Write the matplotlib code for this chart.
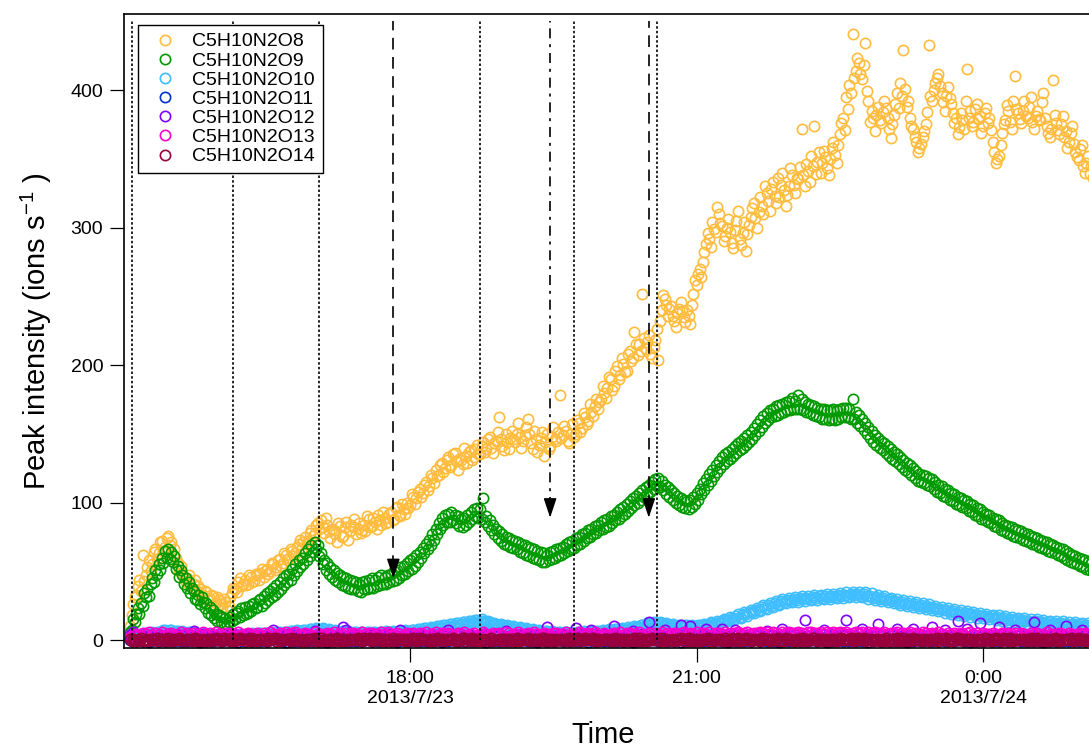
import pandas as pd
import matplotlib
matplotlib.use('Agg')
import matplotlib.pyplot as plt
import matplotlib.dates as mdates

plt.rcParams['font.family'] = 'Liberation Sans'
plt.rcParams['mathtext.fontset'] = 'custom'
plt.rcParams['mathtext.rm'] = 'Liberation Sans'
plt.rcParams['mathtext.it'] = 'Liberation Sans:italic'
plt.rcParams['mathtext.bf'] = 'Liberation Sans:bold'

# peak intensities (ions/s) starting 2013/7/23 15:04
# O8, O9, O10 and O14 are 1-min data, O11-O13 are 2-min data
start_time = '2013-07-23 15:04'

c5h10n2o8 = [
    10, 18, 26, 31, 33, 39, 44, 36, 62, 43, 47, 53, 58, 50, 55, 64, 66, 59, 63, 71,
    72, 65, 68, 74, 76, 69, 71, 62, 66, 60, 56, 51, 54, 49, 46, 42, 45, 47, 40, 38,
    41, 44, 36, 39, 37, 31, 33, 36, 35, 29, 30, 33, 32, 25, 27, 31, 29, 26, 24, 30,
    28, 22, 25, 31, 34, 38, 37, 35, 42, 45, 39, 41, 44, 40, 41, 47, 46, 42, 43, 48,
    47, 44, 49, 52, 46, 50, 52, 48, 50, 56, 55, 51, 53, 58, 59, 54, 56, 63, 62, 58,
    60, 66, 65, 61, 63, 68, 70, 73, 67, 71, 75, 70, 72, 78, 80, 76, 78, 84, 85, 81,
    87, 82, 78, 89, 84, 79, 74, 81, 80, 77, 71, 85, 83, 75, 76, 82, 86, 73, 79, 84,
    82, 88, 77, 81, 85, 78, 80, 84, 79, 90, 88, 82, 83, 89, 86, 81, 91, 87, 84, 93,
    89, 85, 86, 92, 93, 87, 88, 96, 97, 91, 90, 99, 95, 92, 100, 96, 98, 106, 104, 99,
    103, 108, 110, 104, 107, 113, 115, 109, 112, 120, 118, 114, 124, 119, 120, 127, 129, 122, 125, 131,
    133, 126, 127, 135, 136, 130, 124, 132, 131, 128, 140, 134, 129, 137, 138, 131, 133, 139, 142, 135,
    135, 141, 144, 137, 139, 146, 148, 140, 136, 143, 145, 151, 162, 146, 141, 138, 150, 144, 139, 147,
    152, 146, 144, 150, 158, 148, 140, 145, 149, 155, 161, 150, 143, 139, 152, 146, 137, 142, 147, 151,
    134, 144, 150, 139, 141, 148, 155, 146, 145, 151, 178, 147, 149, 156, 152, 145, 143, 150, 157, 148,
    150, 160, 158, 151, 154, 165, 162, 157, 159, 172, 166, 163, 170, 175, 168, 173, 175, 185, 180, 176,
    183, 191, 190, 182, 185, 196, 199, 190, 193, 205, 201, 195, 196, 208, 210, 203, 205, 224, 215, 207,
    215, 210, 252, 220, 212, 217, 222, 208, 205, 213, 218, 226, 204, 232, 240, 251, 248, 244, 236, 241,
    243, 236, 232, 228, 238, 241, 246, 239, 235, 231, 240, 236, 230, 244, 252, 262, 258, 266, 270, 264,
    275, 282, 288, 296, 292, 286, 304, 299, 297, 315, 310, 303, 301, 290, 294, 300, 306, 297, 289, 285,
    298, 305, 312, 292, 287, 296, 304, 283, 295, 302, 308, 314, 318, 307, 300, 311, 322, 316, 310, 330,
    325, 319, 312, 328, 333, 323, 318, 336, 322, 331, 340, 327, 316, 324, 330, 343, 338, 331, 325, 336,
    335, 344, 372, 338, 330, 346, 341, 333, 352, 345, 374, 339, 348, 355, 340, 347, 356, 351, 343, 338,
    350, 358, 362, 353, 347, 360, 368, 376, 380, 371, 395, 386, 404, 398, 441, 409, 414, 423, 420, 412,
    408, 418, 434, 399, 392, 377, 385, 380, 370, 382, 388, 378, 376, 384, 392, 387, 380, 372, 365, 375,
    382, 390, 398, 387, 405, 396, 429, 401, 388, 392, 380, 374, 372, 366, 362, 355, 358, 361, 366, 370,
    375, 384, 433, 396, 392, 400, 405, 409, 412, 403, 398, 391, 385, 396, 402, 394, 390, 383, 376, 380,
    368, 373, 383, 378, 372, 392, 415, 380, 385, 374, 377, 386, 390, 379, 381, 369, 374, 383, 387, 376,
    380, 371, 362, 355, 347, 350, 352, 360, 369, 375, 378, 389, 385, 377, 372, 392, 410, 386, 383, 379,
    376, 385, 392, 381, 380, 388, 395, 377, 372, 381, 385, 379, 378, 391, 398, 380, 374, 369, 366, 372,
    407, 382, 376, 371, 368, 375, 381, 366, 370, 358, 362, 369, 374, 361, 355, 351, 349, 357, 360, 345,
    340, 347, 352, 339, 345, 336, 338, 343]

c5h10n2o9 = [
    6, 7, 15, 13, 19, 23, 19, 27, 25, 34, 31, 37, 32, 41, 45, 42, 51, 48, 55, 51,
    60, 56, 65, 60, 66, 59, 64, 57, 61, 52, 54, 46, 51, 47, 41, 45, 38, 42, 34, 38,
    36, 30, 29, 33, 26, 31, 28, 23, 27, 20, 24, 18, 22, 16, 19, 14, 18, 13, 17, 12,
    16, 11, 13, 17, 14, 19, 15, 20, 21, 17, 23, 18, 24, 19, 20, 25, 21, 26, 27, 23,
    24, 29, 30, 25, 32, 27, 34, 29, 36, 31, 38, 33, 40, 35, 42, 37, 45, 40, 47, 42,
    48, 44, 52, 47, 55, 50, 58, 53, 60, 55, 63, 58, 66, 61, 69, 64, 71, 66, 69, 61,
    63, 55, 58, 51, 56, 48, 53, 46, 51, 44, 49, 42, 47, 40, 46, 39, 45, 38, 44, 37,
    43, 37, 42, 36, 41, 35, 42, 37, 43, 37, 44, 38, 45, 38, 44, 39, 46, 40, 47, 41,
    46, 41, 47, 42, 48, 43, 50, 44, 51, 45, 53, 47, 54, 48, 56, 50, 58, 52, 60, 54,
    62, 57, 64, 60, 67, 63, 70, 66, 73, 69, 77, 73, 81, 77, 85, 81, 89, 84, 91, 86,
    92, 86, 93, 87, 91, 85, 90, 83, 88, 82, 89, 84, 91, 86, 93, 88, 95, 90, 96, 89,
    95, 88, 103, 86, 90, 83, 87, 80, 84, 77, 81, 74, 79, 72, 77, 70, 75, 69, 74, 68,
    73, 67, 72, 66, 71, 64, 70, 63, 69, 62, 68, 61, 67, 60, 66, 59, 65, 58, 64, 57,
    63, 57, 62, 58, 64, 59, 65, 60, 66, 61, 67, 62, 68, 63, 70, 65, 71, 66, 72, 67,
    74, 69, 75, 70, 77, 72, 78, 74, 80, 75, 81, 77, 83, 78, 84, 80, 86, 81, 87, 82,
    88, 83, 90, 85, 91, 87, 93, 88, 95, 90, 97, 92, 99, 94, 101, 96, 103, 98, 105, 100,
    107, 102, 109, 104, 111, 106, 113, 108, 115, 110, 117, 112, 118, 111, 116, 109, 113, 106, 111, 104,
    109, 102, 107, 100, 105, 98, 103, 97, 102, 96, 101, 95, 102, 97, 104, 99, 107, 102, 110, 106,
    114, 109, 117, 113, 121, 116, 124, 119, 127, 122, 130, 125, 133, 128, 135, 130, 137, 132, 139, 134,
    141, 136, 143, 138, 145, 140, 147, 142, 149, 144, 151, 146, 154, 149, 157, 152, 160, 155, 163, 158,
    165, 160, 167, 162, 168, 163, 170, 164, 171, 165, 172, 166, 173, 167, 174, 167, 176, 168, 174, 168,
    178, 168, 175, 167, 173, 166, 172, 165, 171, 164, 170, 163, 169, 162, 168, 161, 168, 161, 167, 160,
    167, 161, 168, 160, 167, 161, 168, 162, 169, 162, 169, 162, 168, 161, 175, 161, 166, 158, 164, 156,
    161, 153, 158, 150, 155, 147, 152, 144, 149, 142, 147, 140, 145, 138, 143, 136, 141, 134, 139, 132,
    137, 130, 135, 128, 133, 126, 131, 124, 129, 122, 127, 120, 125, 118, 123, 116, 121, 115, 120, 114,
    119, 113, 118, 112, 117, 110, 115, 108, 113, 107, 112, 105, 110, 104, 109, 102, 107, 101, 106, 99,
    104, 98, 103, 97, 102, 96, 101, 94, 99, 93, 98, 91, 96, 90, 95, 88, 93, 87, 92, 86,
    91, 85, 89, 83, 88, 82, 87, 80, 85, 79, 84, 78, 83, 77, 82, 76, 81, 75, 80, 74,
    79, 73, 78, 72, 77, 71, 76, 70, 75, 69, 74, 68, 73, 67, 72, 66, 71, 65, 70, 64,
    69, 63, 68, 62, 67, 61, 66, 60, 65, 58, 63, 57, 62, 56, 61, 55, 60, 54, 59, 53,
    58, 52, 57, 51, 56, 50, 55, 49]

c5h10n2o10 = [
    1.5, 2.6, 3.0, 2.0, 2.2, 3.5, 4.1, 3.0, 3.4, 4.5, 4.8, 3.8, 3.9, 5.2, 5.5, 4.4, 4.6, 6.0, 6.1, 5.1,
    5.8, 7.2, 7.0, 5.9, 6.2, 7.6, 7.3, 6.0, 5.9, 6.9, 6.6, 5.4, 5.2, 6.3, 6.0, 4.9, 4.8, 5.8, 5.5, 4.5,
    4.6, 5.5, 5.2, 4.0, 4.1, 5.0, 4.8, 3.6, 3.7, 4.6, 4.4, 3.2, 3.3, 4.2, 4.0, 2.9, 2.9, 3.9, 3.6, 2.7,
    3.0, 3.9, 3.8, 2.6, 2.7, 3.6, 3.9, 2.9, 3.2, 4.1, 4.3, 3.3, 3.6, 4.7, 4.5, 3.5, 3.8, 4.9, 4.6, 3.7,
    4.0, 5.0, 4.9, 3.9, 4.2, 5.3, 5.1, 4.1, 4.4, 5.5, 5.3, 4.3, 4.5, 5.8, 5.6, 4.6, 4.9, 6.1, 6.0, 4.9,
    5.2, 6.5, 6.3, 5.3, 5.7, 7.0, 6.8, 5.8, 6.1, 7.4, 7.2, 6.2, 6.6, 8.0, 7.9, 6.8, 7.2, 8.6, 8.4, 7.3,
    7.6, 8.5, 8.0, 6.8, 6.9, 7.8, 7.3, 6.1, 6.2, 7.2, 6.8, 5.6, 5.7, 6.7, 6.3, 5.2, 5.4, 6.4, 6.0, 4.9,
    5.1, 6.0, 5.8, 4.6, 4.9, 5.9, 5.6, 4.5, 4.8, 5.8, 5.5, 4.4, 4.7, 5.9, 5.6, 4.5, 4.9, 6.0, 5.7, 4.7,
    5.0, 6.3, 6.0, 4.9, 5.3, 6.5, 6.2, 5.1, 5.5, 6.7, 6.4, 5.4, 5.8, 7.1, 6.9, 5.8, 6.2, 7.5, 7.3, 6.2,
    6.7, 8.1, 7.8, 6.8, 7.2, 8.7, 8.5, 7.4, 7.9, 9.4, 9.1, 8.0, 8.6, 10.1, 9.9, 8.7, 9.3, 10.9, 10.6, 9.5,
    10.1, 11.7, 11.4, 10.3, 10.8, 12.5, 12.2, 11.0, 11.7, 13.3, 13.0, 11.8, 12.5, 14.1, 13.9, 12.6, 13.2, 14.9, 14.6, 13.2,
    13.8, 15.0, 14.2, 12.6, 12.9, 13.8, 13.1, 11.5, 11.8, 12.7, 12.0, 10.5, 10.7, 11.8, 11.1, 9.6, 9.8, 10.9, 10.2, 8.9,
    9.0, 10.0, 9.4, 7.9, 8.2, 9.2, 8.7, 7.3, 7.5, 8.5, 8.0, 6.7, 6.9, 7.9, 7.4, 6.1, 6.3, 7.3, 6.9, 5.6,
    5.8, 6.8, 6.4, 5.0, 5.4, 6.4, 6.0, 4.8, 5.1, 6.1, 5.7, 4.6, 4.9, 6.0, 5.6, 4.5, 4.8, 5.9, 5.5, 4.6,
    5.0, 6.1, 5.7, 4.7, 5.1, 6.3, 5.9, 4.9, 5.3, 6.5, 6.2, 5.1, 5.6, 6.9, 6.5, 5.4, 5.9, 7.2, 6.9, 5.8,
    6.3, 7.7, 7.3, 6.2, 6.8, 8.2, 7.8, 6.7, 7.3, 8.7, 8.4, 7.3, 7.9, 9.4, 9.0, 7.9, 8.6, 10.1, 9.8, 8.6,
    9.5, 11.1, 10.8, 9.7, 10.6, 12.3, 12.0, 10.8, 11.5, 13.0, 12.6, 11.2, 11.8, 13.1, 12.5, 10.9, 11.2, 12.3, 11.8, 10.3,
    10.6, 11.7, 11.2, 9.6, 10.1, 11.3, 10.9, 9.3, 9.8, 11.0, 10.6, 9.1, 9.7, 11.0, 10.5, 9.1, 9.8, 11.2, 10.7, 9.4,
    10.2, 11.8, 11.3, 10.4, 11.0, 12.8, 12.3, 11.4, 12.0, 13.9, 13.4, 12.5, 13.2, 15.1, 14.6, 13.7, 14.5, 16.6, 16.0, 14.6,
    15.0, 17.2, 18.6, 16.9, 16.2, 18.9, 20.3, 18.6, 17.8, 20.6, 22.1, 20.3, 19.4, 22.0, 23.6, 21.7, 21.0, 23.8, 25.2, 23.3,
    22.6, 25.2, 26.8, 24.9, 24.1, 26.7, 28.2, 26.3, 25.5, 28.1, 29.6, 27.6, 26.7, 29.2, 30.5, 28.4, 27.6, 30.0, 31.2, 29.0,
    28.0, 30.4, 31.9, 29.7, 28.6, 30.9, 32.3, 30.2, 29.0, 31.4, 32.8, 30.6, 29.4, 31.7, 33.1, 30.9, 29.7, 32.0, 33.5, 31.3,
    30.0, 32.3, 33.8, 31.6, 30.4, 32.7, 34.2, 32.0, 30.7, 33.1, 34.6, 32.3, 31.0, 33.4, 35.0, 32.6, 31.2, 33.5, 35.1, 32.4,
    31.0, 33.3, 34.8, 31.9, 30.2, 32.4, 33.9, 30.9, 29.3, 31.4, 32.8, 29.9, 28.4, 30.4, 31.8, 29.0, 27.5, 29.5, 30.9, 28.1,
    26.6, 28.7, 30.0, 27.2, 25.7, 27.8, 29.2, 26.4, 24.9, 26.9, 28.3, 25.5, 24.0, 26.1, 27.5, 24.7, 23.2, 25.3, 26.6, 23.9,
    22.4, 24.5, 25.9, 23.1, 21.6, 23.6, 25.0, 22.3, 20.8, 22.9, 24.2, 21.5, 20.0, 22.1, 23.4, 20.7, 19.2, 21.3, 22.6, 20.0,
    18.5, 20.6, 21.9, 19.3, 17.8, 19.9, 21.2, 18.6, 17.1, 19.2, 20.5, 17.9, 16.4, 18.5, 19.8, 17.2, 15.7, 17.8, 19.1, 16.6,
    15.1, 17.2, 18.5, 16.0, 14.5, 16.6, 17.9, 15.4, 13.9, 16.0, 17.3, 14.9, 13.4, 15.5, 16.8, 14.4, 12.9, 15.0, 16.3, 13.9,
    12.4, 14.5, 15.8, 13.5, 12.0, 14.1, 15.4, 13.1, 11.6, 13.7, 15.0, 12.7, 11.2, 13.3, 14.6, 12.3, 10.8, 12.9, 14.2, 12.0,
    10.5, 12.6, 13.9, 11.7, 10.2, 12.3, 13.6, 11.4, 9.9, 12.0, 13.3, 11.1, 9.6, 11.7, 13.0, 10.8, 9.3, 11.4, 12.7, 10.5,
    9.1, 11.2, 12.4, 10.3, 8.9, 11.0, 12.2, 10.1]

c5h10n2o11 = [
    -0.2, 0.5, -0.9, 0.1, -0.6, 0.3, -1.1, -0.1, 0.4, -0.7,
    0.0, -0.8, 0.6, -0.3, -1.0, 0.2, -0.5, 0.4, -0.9, -0.1,
    0.3, -0.6, -1.2, 0.1, -0.4, 0.5, -0.8, -0.2, 0.2, -1.0,
    -0.3, 0.4, -0.7, 0.0, -1.1, 0.3, -0.5, 0.6, -0.9, -0.2,
    0.1, -1.0, 0.4, -0.6, -0.1, 0.5, -0.8, 0.2, -0.4, -1.2,
    0.4, -0.5, -0.9, 0.2, -0.3, 0.6, -1.0, -0.1, 0.3, -0.7,
    -0.4, 0.3, -1.1, 0.1, -0.6, 0.5, -0.2, -0.9, 0.4, -0.5,
    0.2, -0.7, 0.5, -1.0, -0.2, 0.3, -0.8, 0.1, -0.4, 0.6,
    -0.9, 0.0, -0.5, 0.4, -1.2, 0.2, -0.3, 0.5, -0.7, -0.1,
    0.3, -1.0, 0.1, -0.4, 0.6, -0.8, -0.2, 0.4, -1.1, 0.0,
    -0.6, 0.5, -0.3, -0.9, 0.2, -0.5, 0.6, -1.0, 0.1, -0.2,
    0.4, -0.7, -1.1, 0.3, -0.4, 0.0, -0.9, 0.5, -0.6, 0.2,
    -0.3, -1.0, 0.4, -0.2, 0.6, -0.8, 0.1, -0.5, -1.2, 0.3,
    0.0, -0.6, 0.5, -0.9, -0.1, 0.4, -1.0, 0.2, -0.4, 0.6,
    -0.8, 0.1, -0.3, 0.5, -1.1, 0.3, -0.6, -0.2, 0.4, -0.9,
    0.2, -0.4, 0.6, -1.0, 0.0, -0.7, 0.3, -0.2, -1.1, 0.5,
    -0.5, 0.3, -0.9, 0.1, -0.3, 0.6, -0.8, 0.4, -0.1, -1.0,
    0.5, -0.6, 0.0, -1.2, 0.2, -0.4, 0.4, -0.9, -0.2, 0.3,
    -0.7, 0.2, -1.0, 0.5, -0.3, 0.1, -0.6, 0.6, -1.1, -0.2,
    0.4, -0.9, 0.1, -0.5, 0.3, -1.0, -0.1, 0.5, -0.7, 0.0,
    -0.4, 0.6, -0.8, 0.2, -1.1, 0.3, -0.2, -0.6, 0.4, -0.9,
    0.1, -0.5, 0.5, -1.0, -0.3, 0.2, -0.7, 0.4, -0.1, -1.2,
    0.3, -0.8, -0.2, 0.6, -0.9, 0.0, -0.4, 0.5, -1.0, 0.2,
    -0.6, 0.4, -1.1, 0.1, -0.3, 0.5, -0.8, -0.1, 0.3, -0.5,
    0.0, -0.9, 0.6, -0.4, -1.2, 0.2, -0.6, 0.4, -0.2, -0.8,
    0.5, -0.3, -1.0, 0.1, -0.5, 0.6, -0.9, 0.0, 0.3, -0.7,
    -0.2, 0.4, -0.8, -0.1, -1.1, 0.5, -0.4, 0.2, -0.9, 0.3,
    0.1, -0.6, 0.4, -1.0, 0.0, -0.3, 0.6, -0.8, -0.2, 0.5,
    -1.0, 0.2, -0.5, 0.3, -0.7, 0.5, -0.1, -1.2, 0.4, -0.4,
    0.6, -0.8, 0.0, -0.5, 0.2, -1.0, 0.4, -0.3, -0.9, 0.1,
    -0.4, 0.3, -0.7, 0.2]

c5h10n2o12 = [
    3.5, 6.2, 2.9, 3.8, 2.6, 4.1, 3.0, 3.6, 2.4, 3.9,
    3.3, 2.8, 4.3, 3.1, 2.5, 3.7, 4.0, 2.7, 3.4, 2.9,
    6.8, 3.2, 2.6, 4.2, 3.5, 2.8, 3.9, 3.1, 4.4, 2.5,
    3.6, 3.0, 4.1, 2.7, 3.3, 3.8, 2.9, 4.5, 3.2, 2.6,
    3.9, 3.4, 2.8, 4.0, 3.1, 7.2, 3.5, 2.7, 3.8, 3.0,
    4.2, 2.6, 3.7, 3.3, 2.9, 4.1, 3.4, 2.8, 6.9, 3.6,
    2.7, 3.9, 3.2, 4.3, 2.8, 3.5, 3.0, 9.5, 7.0, 3.4,
    3.8, 2.9, 4.0, 3.3, 2.6, 3.7, 3.1, 4.4, 2.8, 3.5,
    3.2, 4.1, 2.7, 3.6, 3.0, 7.6, 3.9, 2.8, 4.2, 3.3,
    2.9, 3.7, 3.4, 2.6, 4.0, 3.1, 3.8, 2.7, 3.5, 4.3,
    7.4, 3.0, 3.6, 2.8, 4.1, 3.3, 2.9, 3.9, 3.2, 2.6,
    3.7, 4.2, 3.0, 3.5, 2.7, 3.9, 3.4, 2.8, 6.6, 3.1,
    4.0, 2.9, 3.6, 3.2, 4.3, 2.7, 3.8, 3.1, 3.5, 2.8,
    3.4, 9.6, 3.9, 3.0, 2.6, 4.1, 3.3, 3.7, 2.9, 3.6,
    9.0, 3.2, 4.0, 2.8, 3.5, 7.1, 3.1, 3.8, 2.7, 4.2,
    3.0, 3.6, 10.5, 3.3, 2.9, 4.0, 3.4, 2.7, 6.8, 3.7,
    3.1, 4.3, 2.8, 13.2, 3.5, 3.0, 3.9, 3.2, 7.4, 2.6,
    3.8, 3.3, 4.1, 10.8, 2.9, 3.6, 10.2, 3.4, 3.0, 4.0,
    3.5, 7.8, 3.2, 2.7, 3.9, 3.3, 8.2, 3.6, 2.8, 4.1,
    7.5, 3.4, 3.0, 3.8, 2.6, 3.7, 4.2, 3.1, 3.5, 2.9,
    6.9, 3.6, 4.0, 3.2, 2.8, 8.4, 3.4, 3.9, 3.0, 3.5,
    4.1, 2.7, 14.5, 3.3, 3.8, 2.9, 3.6, 4.2, 7.2, 3.1,
    3.4, 3.9, 2.8, 3.5, 4.0, 14.6, 3.2, 3.7, 2.9, 4.3,
    8.0, 3.1, 3.6, 3.3, 2.7, 11.5, 3.8, 3.0, 4.1, 3.4,
    3.7, 7.7, 3.2, 2.9, 3.9, 3.5, 8.3, 3.1, 4.0, 3.6,
    3.0, 3.8, 9.6, 3.4, 2.8, 4.2, 7.5, 3.3, 3.7, 3.1,
    13.6, 3.5, 4.0, 7.9, 3.2, 3.6, 2.9, 12.1, 3.8, 3.3,
    3.9, 3.0, 3.6, 9.2, 4.1, 3.2, 3.5, 2.8, 7.6, 3.7,
    3.4, 3.1, 4.0, 3.3, 12.9, 3.6, 2.9, 3.8, 3.2, 7.3,
    3.5, 4.1, 3.0, 3.7, 10.1, 3.3, 3.9, 2.8, 3.6, 7.0,
    3.2, 3.8, 3.4, 3.1]

c5h10n2o13 = [
    2.2, 3.4, 4.6, 3.8, 5.3, 4.1, 5.8, 3.6, 4.9, 4.3,
    5.6, 3.9, 4.7, 5.2, 3.5, 4.5, 5.9, 4.0, 4.8, 3.7,
    5.1, 4.4, 3.6, 5.5, 4.2, 4.9, 3.8, 5.7, 4.6, 4.0,
    4.8, 5.4, 3.7, 4.3, 5.8, 3.9, 4.7, 5.1, 4.1, 3.6,
    5.3, 4.0, 4.9, 3.8, 5.6, 4.4, 3.7, 5.0, 4.5, 5.9,
    3.9, 4.8, 5.5, 4.1, 3.6, 5.2, 4.6, 3.8, 5.7, 4.3,
    4.7, 3.7, 5.1, 4.5, 5.8, 4.0, 4.9, 3.6, 5.4, 4.2,
    5.0, 4.3, 3.8, 5.6, 4.1, 4.8, 5.3, 3.9, 4.6, 5.9,
    4.4, 5.5, 4.0, 3.7, 5.1, 4.7, 3.9, 5.4, 4.2, 4.9,
    3.8, 5.2, 4.6, 5.8, 4.0, 4.5, 5.6, 3.7, 4.9, 4.3,
    5.4, 4.1, 3.9, 5.0, 4.7, 5.7, 3.8, 4.4, 5.2, 4.0,
    4.6, 5.9, 4.2, 3.7, 5.3, 4.5, 4.9, 3.9, 5.5, 4.8,
    4.0, 4.7, 5.6, 4.3, 3.8, 5.1, 4.6, 5.8, 4.1, 3.9,
    5.2, 4.4, 3.7, 4.9, 5.4, 4.0, 4.5, 5.7, 3.8, 4.6,
    4.3, 5.5, 4.8, 3.9, 5.0, 4.2, 5.9, 4.7, 4.0, 5.3,
    3.8, 4.6, 5.2, 4.4, 5.8, 3.7, 4.9, 5.1, 4.5, 4.1,
    5.6, 4.0, 4.7, 5.4, 3.9, 4.8, 4.3, 5.7, 4.6, 5.0,
    4.5, 5.3, 3.8, 4.9, 5.5, 4.1, 5.0, 4.4, 5.8, 4.2,
    5.1, 4.6, 5.7, 4.0, 4.8, 5.4, 4.3, 5.9, 4.7, 5.2,
    4.9, 5.6, 4.4, 5.2, 6.0, 4.6, 5.4, 4.8, 5.8, 5.0,
    5.5, 4.7, 5.9, 5.1, 4.5, 5.7, 4.9, 6.1, 5.3, 4.8,
    5.8, 5.0, 4.6, 5.6, 6.0, 4.9, 5.4, 5.9, 4.7, 5.5,
    5.2, 6.1, 4.8, 5.6, 5.0, 5.8, 4.6, 5.4, 6.0, 4.9,
    5.5, 4.7, 5.9, 5.1, 5.6, 4.8, 5.3, 5.8, 4.5, 5.2,
    4.9, 5.6, 4.4, 5.4, 4.8, 5.7, 4.6, 5.1, 4.3, 5.5,
    5.0, 4.5, 5.3, 4.2, 5.6, 4.7, 4.0, 5.2, 4.6, 5.4,
    4.4, 5.1, 4.0, 4.8, 5.5, 4.3, 4.9, 3.9, 5.2, 4.6,
    4.1, 5.3, 4.7, 3.8, 5.0, 4.5, 5.4, 4.2, 4.8, 3.9,
    5.1, 4.4, 3.7, 4.9, 4.3, 5.2, 4.0, 4.6, 5.5, 4.1,
    4.7, 3.8, 5.0, 4.4, 4.0, 5.3, 4.5, 3.9, 4.8, 4.2,
    5.0, 4.3, 4.6, 3.9]

c5h10n2o14 = [
    0.6, -0.4, 1.1, 0.2, -0.8, 0.9, 0.0, 1.3, -0.5, 0.4, 1.1, 0.1, -0.9, 0.6, 1.0, -0.3, 0.4, 1.3, -0.6, 0.7,
    1.0, -0.2, 0.5, -0.9, 1.2, 0.1, -0.6, 0.8, 0.3, -0.3, 0.2, 1.2, -0.2, 0.9, -0.8, 0.5, 1.1, 0.0, 0.8, -0.4,
    0.7, 1.4, -0.7, 0.2, 0.9, -0.4, 1.1, 0.0, -0.8, 0.6, 1.0, -0.7, 0.6, 0.3, 1.3, -0.1, 0.9, -0.5, 0.4, 1.2,
    -0.1, 1.0, 0.4, -0.6, 1.3, 0.3, -0.9, 0.7, 0.1, 1.2, -0.3, 0.8, 1.1, -0.9, 0.5, 0.2, 1.4, -0.6, 0.7, 0.0,
    -0.5, 0.8, 0.2, 1.1, -0.3, 0.5, -0.7, 1.4, 0.0, 0.9, 0.9, 1.2, -0.4, 0.6, -0.8, 1.0, 0.3, -0.2, 1.1, 0.5,
    0.3, -0.8, 1.2, 0.6, -0.2, 1.0, 0.1, -0.6, 0.8, -0.1, -0.6, 0.8, 0.1, 1.0, 0.5, -0.4, 1.2, 0.8, -0.7, 0.3,
    1.3, 0.4, -0.9, 0.7, 0.2, 1.1, -0.4, 0.5, -0.7, 1.0, 1.4, 0.0, -0.5, 0.9, 1.1, 0.1, -0.9, 0.6, 1.0, -0.3,
    0.0, 0.9, -0.3, 1.2, 0.6, -0.8, 0.3, 1.4, -0.2, 0.7, 0.4, 1.3, -0.6, 0.7, 0.2, 1.2, -0.2, 0.9, -0.8, 0.5,
    1.1, -0.5, 0.4, 0.8, -0.9, 1.3, 0.2, -0.4, 1.0, 0.5, 1.1, 0.0, 0.8, -0.4, 1.0, -0.7, 0.6, 0.3, 1.3, -0.1,
    -0.6, 0.7, 1.2, 0.1, -0.3, 0.9, 0.4, -0.8, 1.1, 0.0, 0.9, -0.5, 0.4, 1.2, -0.3, 0.8, 1.1, -0.9, 0.5, 0.2,
    0.8, -0.2, 0.5, 1.3, -0.7, 0.3, 1.0, -0.4, 0.6, 1.2, 1.4, -0.6, 0.7, 0.0, 0.9, 1.2, -0.4, 0.6, -0.8, 1.0,
    0.2, -0.9, 1.1, 0.4, -0.1, 0.8, -0.6, 1.4, 0.3, -0.3, 0.3, -0.2, 1.1, 0.5, -0.6, 0.8, 0.1, 1.0, 0.6, -0.4,
    0.9, 0.0, -0.5, 1.2, 0.6, -0.8, 1.0, 0.2, -0.2, 0.7, 1.2, 0.3, -0.8, 1.1, 0.7, -0.1, 0.9, -0.5, 0.4, 1.2,
    1.3, -0.4, 0.5, -0.9, 1.1, 0.3, 0.8, -0.6, 1.0, 0.1, -0.3, 0.8, 1.1, -0.9, 0.5, 0.2, 1.4, -0.6, 0.7, 0.0,
    -0.2, 1.2, 0.6, -0.7, 0.9, 0.0, 1.4, -0.3, 0.4, 1.1, 0.9, 1.2, -0.4, 0.6, -0.8, 1.0, 0.3, -0.2, 1.1, 0.5,
    0.5, -0.6, 1.0, 0.2, -0.8, 1.3, 0.7, -0.1, 0.9, -0.5, 0.6, -0.4, 1.1, 0.2, -0.8, 0.9, 0.0, 1.3, -0.5, 0.4,
    1.2, 0.3, -0.4, 0.8, 1.1, -0.9, 0.6, 0.0, 1.3, -0.2, 1.0, -0.2, 0.5, -0.9, 1.2, 0.1, -0.6, 0.8, 0.3, -0.3,
    0.4, 1.0, -0.7, 0.9, 0.2, -0.3, 1.2, 0.5, -0.8, 0.7, 0.7, 1.4, -0.7, 0.2, 0.9, -0.4, 1.1, 0.0, -0.8, 0.6,
    1.1, -0.1, 0.6, 1.4, -0.5, 0.8, 0.1, -0.6, 1.0, 0.3, -0.1, 1.0, 0.4, -0.6, 1.3, 0.3, -0.9, 0.7, 0.1, 1.2,
    -0.4, 0.9, 1.2, 0.0, -0.9, 0.7, 0.4, 1.3, -0.2, 0.6, -0.5, 0.8, 0.2, 1.1, -0.3, 0.5, -0.7, 1.4, 0.0, 0.9,
    1.0, 0.2, -0.7, 1.1, 0.5, -0.3, 0.8, 1.4, -0.6, 0.3, 0.3, -0.8, 1.2, 0.6, -0.2, 1.0, 0.1, -0.6, 0.8, -0.1,
    0.7, -0.8, 1.2, 0.1, 0.9, -0.4, 1.0, 0.4, -0.1, 1.3, 1.3, 0.4, -0.9, 0.7, 0.2, 1.1, -0.4, 0.5, -0.7, 1.0,
    -0.5, 0.6, 0.2, 1.1, -0.9, 0.8, 0.0, 1.2, 0.5, -0.3, 0.0, 0.9, -0.3, 1.2, 0.6, -0.8, 0.3, 1.4, -0.2, 0.7,
    0.9, 1.3, -0.6, 0.4, 1.0, -0.2, 0.7, -0.8, 1.1, 0.2, 1.1, -0.5, 0.4, 0.8, -0.9, 1.3, 0.2, -0.4, 1.0, 0.5,
    0.5, -0.4, 1.2, 0.8, -0.7, 0.3, 1.4, 0.0, -0.5, 0.9, -0.6, 0.7, 1.2, 0.1, -0.3, 0.9, 0.4, -0.8, 1.1, 0.0,
    1.1, 0.1, -0.9, 0.6, 1.0, -0.3, 0.4, 1.3, -0.6, 0.7, 0.8, -0.2, 0.5, 1.3, -0.7, 0.3, 1.0, -0.4, 0.6, 1.2,
    0.2, 1.2, -0.2, 0.9, -0.8, 0.5, 1.1, 0.0, 0.8, -0.4, 0.2, -0.9, 1.1, 0.4, -0.1, 0.8, -0.6, 1.4, 0.3, -0.3,
    1.0, -0.7, 0.6, 0.3, 1.3, -0.1, 0.9, -0.5, 0.4, 1.2, 0.9, 0.0, -0.5, 1.2, 0.6, -0.8, 1.0, 0.2, -0.2, 0.7,
    -0.3, 0.8, 1.1, -0.9, 0.5, 0.2, 1.4, -0.6, 0.7, 0.0, 1.3, -0.4, 0.5, -0.9, 1.1, 0.3, 0.8, -0.6, 1.0, 0.1,
    0.9, 1.2, -0.4, 0.6, -0.8, 1.0, 0.3, -0.2, 1.1, 0.5, -0.2, 1.2, 0.6, -0.7, 0.9, 0.0, 1.4, -0.3, 0.4, 1.1,
    -0.6, 0.8, 0.1, 1.0, 0.5, -0.6, 1.0, 0.2]

species = ['C5H10N2O8', 'C5H10N2O9', 'C5H10N2O10', 'C5H10N2O11',
           'C5H10N2O12', 'C5H10N2O13', 'C5H10N2O14']
steps = ['1min', '1min', '1min', '2min', '2min', '2min', '1min']
colors = ['#FFBC3F', '#009A00', '#3FBEFF', '#0030D0',
          '#8000FF', '#FF00CC', '#98003C']

# event lines (dotted) and arrows (time, arrow tip value)
event_times = ['2013-07-23 15:05', '2013-07-23 16:08:30', '2013-07-23 17:02:30',
               '2013-07-23 18:44', '2013-07-23 19:43', '2013-07-23 20:35']
arrow_times = ['2013-07-23 17:49:30', '2013-07-23 19:28', '2013-07-23 20:30']
arrow_tips = [45, 89, 89]

tick_times = ['2013-07-23 18:00', '2013-07-23 21:00', '2013-07-24 00:00']
tick_labels = ['18:00\n2013/7/23', '21:00', '0:00\n2013/7/24']

values = [c5h10n2o8, c5h10n2o9, c5h10n2o10, c5h10n2o11,
          c5h10n2o12, c5h10n2o13, c5h10n2o14]

fig = plt.figure(figsize=(10.89, 7.49), dpi=100)
ax = fig.add_axes([0.1139, 0.1348, 0.8962, 0.8465])

for vals, name, step, col in zip(values, species, steps, colors):
    t = pd.date_range(start_time, periods=len(vals), freq=step)
    ax.plot(t, vals, 'o', ms=7.4, mfc='none', mec=col, mew=1.2, label=name)

line_top = 450
for et in event_times:
    x = mdates.date2num(pd.Timestamp(et))
    ax.plot([x, x], [0, line_top], color='k', lw=1.2, dashes=(1.5, 1.3), zorder=5)

for at, tip, ds in zip(arrow_times, arrow_tips, [(7, 4.5), (6, 3.5, 1.8, 3.5), (7, 4.5)]):
    x = mdates.date2num(pd.Timestamp(at))
    ax.plot([x, x], [tip + 8, line_top], color='k', lw=1.2, dashes=ds, zorder=5)
    ax.annotate('', xy=(x, tip), xytext=(x, tip + 12),
                arrowprops=dict(arrowstyle='-|>,head_length=0.6,head_width=0.2',
                                mutation_scale=20, color='k', lw=1,
                                shrinkA=0, shrinkB=0), zorder=6)

ax.set_xlim(pd.Timestamp('2013-07-23 15:00:18'), pd.Timestamp('2013-07-24 01:13:30'))
ax.set_ylim(-5.8, 455.3)
ax.set_xticks(pd.to_datetime(tick_times))
ax.set_xticklabels(tick_labels)
ax.set_yticks([0, 100, 200, 300, 400])
ax.tick_params(axis='both', direction='out', length=10, width=0.9, labelsize=14)
ax.tick_params(axis='x', pad=6)
ax.tick_params(axis='y', pad=5)
for s in ['left', 'bottom', 'top']:
    ax.spines[s].set_linewidth(1.2)
ax.spines['right'].set_visible(False)

ax.set_xlabel('Time', fontsize=21)
ax.xaxis.set_label_coords(0.491, -0.115)
ax.set_ylabel('Peak intensity (ions s$^{-1}$ )', fontsize=21)
ax.yaxis.set_label_coords(-0.072, 0.5)

leg = ax.legend(loc='upper left', bbox_to_anchor=(0.0143, 0.9826), borderaxespad=0,
                fontsize=14, fancybox=False, framealpha=1, edgecolor='k',
                handletextpad=0.4, labelspacing=0.08, borderpad=0.4)
leg.get_frame().set_linewidth(1.0)

fig.savefig('out.png', dpi=100)
